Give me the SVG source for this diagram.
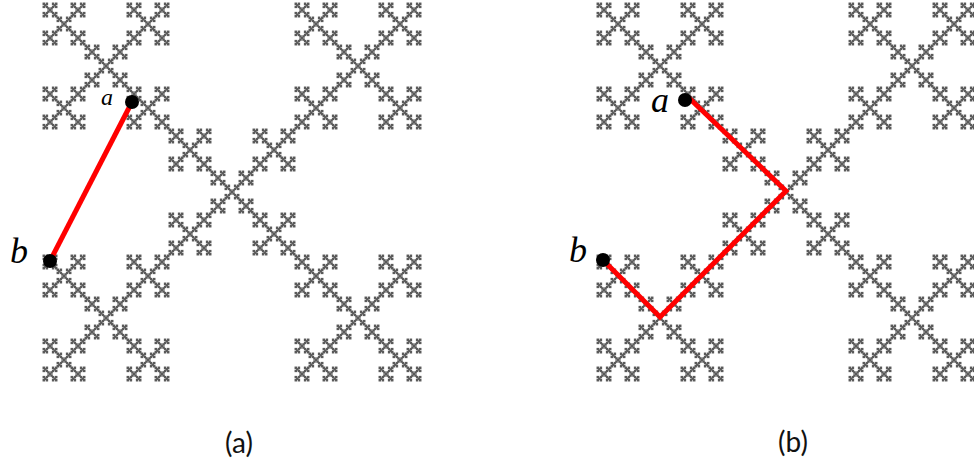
<svg xmlns="http://www.w3.org/2000/svg" width="974" height="466" viewBox="0 0 974 466">
<style>
.edge{fill:none;stroke:#f00;stroke-width:5;stroke-linejoin:miter}
.pt{fill:#000}
.m{font-family:"Liberation Serif",serif;font-style:italic;fill:#000}
.cap{font-family:Lato,"Liberation Sans",sans-serif;font-size:28px;fill:#111;text-anchor:middle}
</style>
<defs>
<rect id="l0" x="-0.3" y="-0.3" width="1.6" height="1.6" fill="#5a5a5a"/>
<g id="l1"><use href="#l0"/><use href="#l0" x="2"/><use href="#l0" x="1" y="1"/><use href="#l0" y="2"/><use href="#l0" x="2" y="2"/></g>
<g id="l2"><use href="#l1"/><use href="#l1" x="6"/><use href="#l1" x="3" y="3"/><use href="#l1" y="6"/><use href="#l1" x="6" y="6"/></g>
<g id="l3"><use href="#l2"/><use href="#l2" x="18"/><use href="#l2" x="9" y="9"/><use href="#l2" y="18"/><use href="#l2" x="18" y="18"/></g>
<g id="l4"><use href="#l3"/><use href="#l3" x="54"/><use href="#l3" x="27" y="27"/><use href="#l3" y="54"/><use href="#l3" x="54" y="54"/></g>
<g id="l5"><use href="#l4"/><use href="#l4" x="162"/><use href="#l4" x="81" y="81"/><use href="#l4" y="162"/><use href="#l4" x="162" y="162"/></g>
</defs>
<g id="fractal-a" transform="translate(43 3) scale(1.5556)"><use href="#l5"/></g>
<g id="fractal-b" transform="translate(597 3) scale(1.5556)"><use href="#l5"/></g>
<g id="connectors">
<path class="edge" d="M132 102L50 261"/>
<path class="edge" d="M688 97L786 191L660 317L603 260"/>
</g>
<g id="point-a1"><circle class="pt" cx="132" cy="102" r="7"/><text class="m" x="101" y="105" font-size="24">a</text></g>
<g id="point-b1"><circle class="pt" cx="50" cy="261" r="7"/><text class="m" x="10" y="263" font-size="36">b</text></g>
<g id="point-a2"><circle class="pt" cx="685" cy="100" r="7"/><text class="m" x="651" y="112" font-size="36">a</text></g>
<g id="point-b2"><circle class="pt" cx="603" cy="260" r="7"/><text class="m" x="569" y="262" font-size="36">b</text></g>
<text class="cap" x="239" y="453">(a)</text>
<text class="cap" x="793" y="452">(b)</text>
</svg>
